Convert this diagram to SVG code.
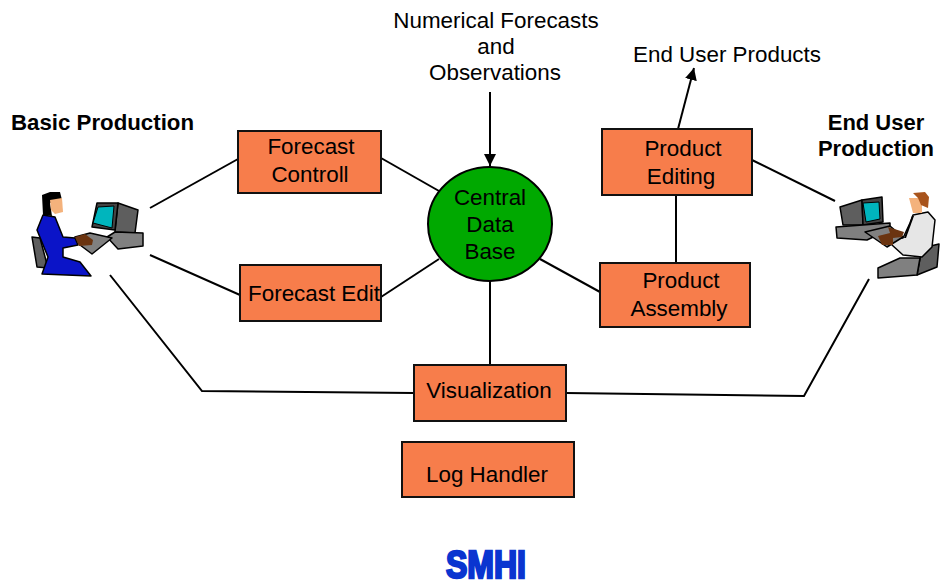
<svg xmlns="http://www.w3.org/2000/svg" width="941" height="586" viewBox="0 0 941 586">
<style>
text{font-family:"Liberation Sans",Arial,sans-serif;font-size:22.400px;fill:#000;text-anchor:middle}
.h{font-weight:bold;font-size:22px}
.box{fill:#f77d4b;stroke:#111;stroke-width:2}
.ln{fill:none;stroke:#000;stroke-width:2}
.o{stroke:#000;stroke-width:1.5;stroke-linejoin:round}
.g{fill:#808080}.dk{fill:#5e5e5e}.sk{fill:#f4b27c}.br{fill:#6b3410}
</style>
<defs>
<marker id="arr" markerUnits="userSpaceOnUse" markerWidth="13" markerHeight="13" refX="12" refY="6" orient="auto"><path d="M0 0L12 6L0 12Z" fill="#000"/></marker>
</defs>
<rect width="941" height="586" fill="#fff"/>
<g id="connectors">
<line class="ln" x1="150" y1="208" x2="238" y2="159"/>
<line class="ln" x1="150" y1="255" x2="240" y2="295"/>
<line class="ln" x1="381" y1="158" x2="439" y2="191"/>
<line class="ln" x1="381" y1="297" x2="439" y2="259"/>
<line class="ln" x1="540" y1="259" x2="600" y2="292"/>
<line class="ln" x1="676" y1="195" x2="676" y2="263"/>
<line class="ln" x1="752" y1="160" x2="835" y2="201"/>
<line class="ln" x1="490" y1="281" x2="490" y2="365"/>
<polyline class="ln" points="110,275 202,391 414,393"/>
<polyline class="ln" points="566,393 804,396 869,279"/>
<line class="ln" x1="490" y1="92" x2="490" y2="166" marker-end="url(#arr)"/>
<line class="ln" x1="678" y1="129" x2="694" y2="68" marker-end="url(#arr)"/>
</g>
<g id="forecast-controll"><rect class="box" x="238" y="131" width="143" height="62"/><text x="311" y="154">Forecast</text><text x="310" y="182">Controll</text></g>
<g id="forecast-edit"><rect class="box" x="240" y="265" width="141" height="56"/><text x="314" y="301">Forecast Edit</text></g>
<g id="central-data-base"><ellipse cx="490" cy="224" rx="62" ry="57" fill="#00a900" stroke="#000" stroke-width="2"/><text x="490" y="205">Central</text><text x="490" y="232">Data</text><text x="490" y="259">Base</text></g>
<g id="product-editing"><rect class="box" x="602" y="129" width="150" height="66"/><text x="683" y="156">Product</text><text x="681" y="184">Editing</text></g>
<g id="product-assembly"><rect class="box" x="600" y="263" width="150" height="64"/><text x="681" y="288">Product</text><text x="679" y="316">Assembly</text></g>
<g id="visualization"><rect class="box" x="414" y="365" width="152" height="56"/><text x="489" y="398">Visualization</text></g>
<g id="log-handler"><rect class="box" x="402" y="442" width="172" height="55"/><text x="487" y="482">Log Handler</text></g>
<g id="labels">
<text x="496" y="28">Numerical Forecasts</text><text x="496" y="54">and</text><text x="495" y="80">Observations</text>
<text x="727" y="62">End User Products</text>
<text class="h" x="102.500" y="130" textLength="183" lengthAdjust="spacingAndGlyphs">Basic Production</text>
<text class="h" x="876" y="130">End User</text><text class="h" x="876" y="156">Production</text>
</g>
<g id="basic-production">
<path class="o dk" d="M32 237L40 238L48 268L37 267Z"/>
<path d="M42 195L50 192L60 192L62 200L50 203L52 216L43 215Z" fill="#000"/>
<path class="sk" d="M50 200L62 198L63 212L55 214L51 210Z"/>
<path class="o" fill="#0b14c8" d="M43 215L55 217L63 237L75 238L78 245L63 248L63 257L80 262L91 276L42 274L48 257L37 230Z"/>
<path class="o dk" d="M118 203L138 210L135 233L115 232Z"/>
<path class="o" fill="#444" d="M97 203L118 203L115 230L92 227Z"/>
<path fill="#00b5bd" stroke="#000" d="M98 207L114 206L112 228L93 223Z"/>
<path class="o g" d="M107 237L115 232L143 233L143 246L118 249Z"/>
<path class="o g" d="M75 237L90 233L112 238L92 254L80 245Z"/>
<path class="br" d="M75 237L85 234L93 240L92 245L79 246Z"/>
</g>
<g id="end-user-production">
<path class="o dk" d="M922 248L939 244L937 267L917 275Z"/>
<path class="o g" d="M878 268L900 258L920 258L917 275L878 278Z"/>
<path class="o" fill="#e6e6e6" d="M913 215L928 212L935 220L932 247L922 257L903 255L892 245L893 238L903 238L910 223Z"/>
<path d="M912 216L914 216L906 238L904 238Z" fill="#000"/>
<path class="sk" d="M909 198L922 198L922 213L913 213Z"/>
<path d="M913 193L925 192L929 197L928 208L921 205L918 198Z" fill="#a8541c"/>
<path class="o dk" d="M840 207L862 200L863 225L843 225Z"/>
<path class="o" fill="#444" d="M862 200L882 197L883 222L863 225Z"/>
<path fill="#00b5bd" stroke="#000" d="M863 203L879 202L880 219L866 222Z"/>
<path class="o g" d="M836 227L890 223L890 229L867 240L837 238Z"/>
<path class="o g" d="M865 232L890 226L903 237L887 247Z"/>
<path class="br" d="M888 227L904 232L902 237L893 238L893 245L882 245L878 236L890 233Z"/>
</g>
<g id="smhi"><text x="486" y="578" textLength="80" lengthAdjust="spacingAndGlyphs" style="font-weight:900;font-size:39px;fill:#0a35d0;stroke:#0a35d0;stroke-width:2.500">SMHI</text></g>
</svg>
